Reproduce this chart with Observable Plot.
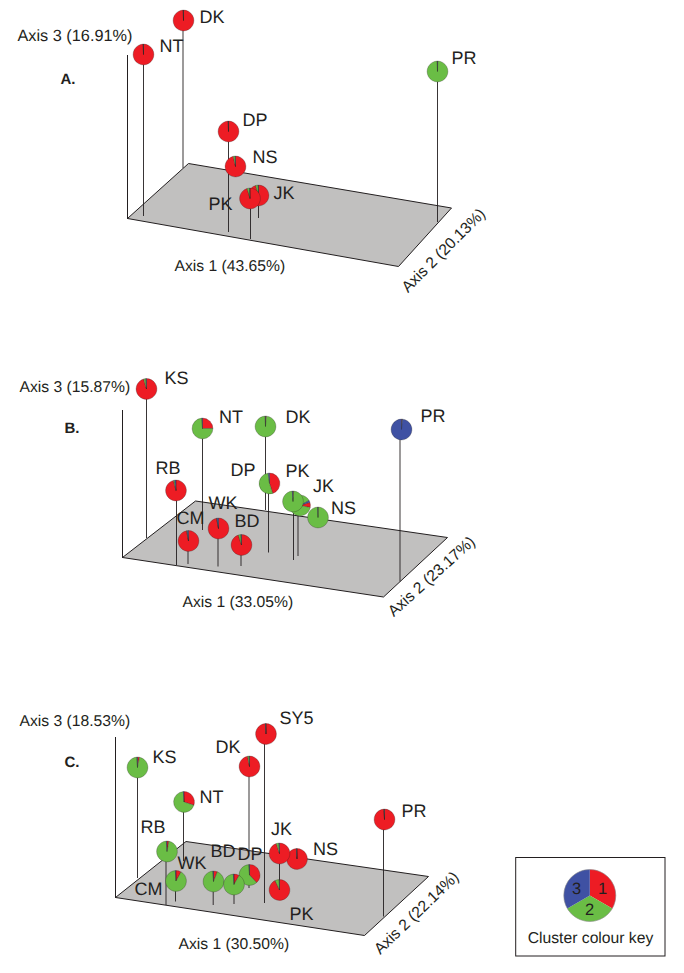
<!DOCTYPE html>
<html>
<head>
<meta charset="utf-8">
<script src="https://cdn.jsdelivr.net/npm/d3@7"></script>
<script src="https://cdn.jsdelivr.net/npm/@observablehq/plot@0.6"></script>
<style>html,body{margin:0;padding:0;background:#fff}svg{display:block;text-rendering:geometricPrecision}</style>
</head>
<body>
<div id="chart"></div>
<script>
// Picture coordinates. Draw order = order in the arrays.
const planeAx = [127,188,451,398], planeAy = [218,163,207.5,266];
const planeBx = [122,195,447,383], planeBy = [557,500.5,537,596.5];
const planeCx = [115,185.5,428,364], planeCy = [897,841,876,935];
const axisX = [127,122,115], axisTop = [55,410,737], axisBase = [218,557,897];

const sitesA = ["DK","NT","DP","NS","JK","PK","PR"];
const pieXA = [183,143,228,235,258,249.5,437];
const pieYA = [20,54,131,166,195,198,71];
const stemXA = [182.5,143,228,235,258,250,437];
const stemEndA = [168,216,232,166,218,239,222];
const redA = [.995,.995,.995,.965,.955,.955,.005];
const greenA = [.003,.003,.003,.03,.04,.04,.99];
const blueA = [.002,.002,.002,.005,.005,.005,.005];
const labelXA = [199,159,242,252,273,208,451];
const labelYA = [17,46,120,157,192.5,204,58];

const sitesB = ["KS","NT","RB","CM","WK","BD","DK","DP","JK","PK","NS","PR"];
const pieXB = [146,202,175.5,188,218,241,265,269,299.5,292.5,317.5,401];
const pieYB = [388.5,428,490,540.5,528,544.5,426,483,505,501,517,429];
const stemXB = [146,202,176,187.5,217.5,240.5,265,268,297.5,293,317.5,399.5];
const stemEndB = [538,530,565,564,566.5,566,510,552.5,556,560,517,581.5];
const redB = [.955,.25,.96,.97,.97,.95,.015,.45,.08,.01,.005,.01];
const greenB = [.035,.74,.02,.01,.005,.04,.98,.53,.89,.98,.99,.005];
const blueB = [.01,.01,.02,.02,.025,.01,.005,.02,.03,.01,.005,.985];
const turnB = [0,0,0,0,0,0,0,0,.2,0,0,0];
const labelXB = [164,218.5,155,176,208,234,285,230,312.5,285,330.5,420];
const labelYB = [378,416.5,468,517.5,503,520.5,416.5,470,486,471,508,416];

const sitesC = ["KS","NT","RB","CM","DP","WK","BD","NS","JK","PK","DK","SY5","PR"];
const pieXC = [137,183.5,166.5,175.5,249,213,233.5,296.5,279,279,249,265.5,384];
const pieYC = [767,801.5,851,880.5,874.5,881,884,858.5,853,889.5,766,733.5,819];
const stemXC = [137,183,165.5,175,248.5,212.7,233.5,296.5,279,279,248.5,264,383];
const stemEndC = [878,861,905,901.5,888,905,904,858.5,880,889.5,852,903,916.5];
const redC = [.03,.30,.03,.08,.38,.06,.08,.99,.95,.93,.97,.99,.99];
const greenC = [.96,.69,.96,.91,.61,.93,.91,.005,.04,.065,.025,.005,.005];
const blueC = [.01,.01,.01,.01,.01,.01,.01,.005,.01,.005,.005,.005,.005];
const labelXC = [152,199,140,134,237,177,210,312.5,270.5,289,215,279,401];
const labelYC = [757,797,827,889,854,863,851,848.5,829,914,746.5,718,810.5];

const axis3Text = ["Axis 3 (16.91%)","Axis 3 (15.87%)","Axis 3 (18.53%)"];
const axis3X = [17,19,19], axis3Y = [35,386.5,720];
const axis1Text = ["Axis 1 (43.65%)","Axis 1 (33.05%)","Axis 1 (30.50%)"];
const axis1X = [174,182,178], axis1Y = [265,601,943];
const axis2Text = ["Axis 2 (20.13%)","Axis 2 (23.17%)","Axis 2 (22.14%)"];
const axis2X = [443,431,416], axis2Y = [250,576,912.5], axis2Angle = [-45,-42,-44];
const panelText = ["A.","B.","C."];
const panelX = [60,64,64], panelY = [79,427.5,762];

const clusterNames = ["1","2","3"];
const clusterColors = ["#ed1c24","#6abd45","#3f51a3"];
const keyBoxX = [515.7,665], keyBoxY = [857.5,956];
const keyPieX = 589.3, keyPieY = 895;
const keyShare = [1/3,1/3,1/3];
const keyNumX = [602,589,576], keyNumY = [888.5,909,888.5];
const keyTitle = "Cluster colour key", keyTitleX = 590, keyTitleY = 937.5;

const ink = "#231f20";
const PIE_R = 10.4;

// Wedge as a d3-style symbol: fractions of a turn, clockwise from the top.
const wedge = (a0, a1) => ({
  draw(ctx, size) {
    const r = Math.sqrt(size / Math.PI);
    const t0 = a0 * 2 * Math.PI - Math.PI / 2, t1 = a1 * 2 * Math.PI - Math.PI / 2;
    ctx.moveTo(0, 0);
    ctx.lineTo(r * Math.cos(t0), r * Math.sin(t0));
    ctx.arc(0, 0, r, t0, t1);
    ctx.closePath();
  }
});

function slices(x, y, shares, turn) {
  let a = turn, rows = [];
  shares.forEach((s, k) => {
    rows.push({x, y, fill: clusterColors[k], symbol: wedge(a, a + s)});
    a += s;
  });
  return rows;
}
const pies = (X, Y, R, G, B, T) => X.flatMap((x, i) => slices(x, Y[i], [R[i], G[i], B[i]], T ? T[i] : 0));
const pieRows = [
  ...pies(pieXA, pieYA, redA, greenA, blueA),
  ...pies(pieXB, pieYB, redB, greenB, blueB, turnB),
  ...pies(pieXC, pieYC, redC, greenC, blueC)
];
const stems = (X, Y, End) => X.map((x, i) => ({x, y1: Y[i], y2: End[i]}));
const stemRows = [
  ...stems(stemXA, pieYA, stemEndA),
  ...stems(stemXB, pieYB, stemEndB),
  ...stems(stemXC, pieYC, stemEndC)
];
const plane = (X, Y, id) => [...X, X[0]].map((x, i) => ({x, y: [...Y, Y[0]][i], id}));
const planeRows = [...plane(planeAx, planeAy, "A"), ...plane(planeBx, planeBy, "B"), ...plane(planeCx, planeCy, "C")];
const labelRows = [
  ...sitesA.map((t, i) => ({t, x: labelXA[i], y: labelYA[i]})),
  ...sitesB.map((t, i) => ({t, x: labelXB[i], y: labelYB[i]})),
  ...sitesC.map((t, i) => ({t, x: labelXC[i], y: labelYC[i]}))
];
const keySlices = slices(keyPieX, keyPieY, keyShare, 0);

const plot = Plot.plot({
  width: 684, height: 973, margin: 0,
  style: {background: "#fff", fontFamily: "'Liberation Sans', Arial, sans-serif"},
  x: {domain: [0, 684], axis: null},
  y: {domain: [973, 0], axis: null},
  marks: [
    Plot.line(planeRows, {x: "x", y: "y", z: "id", fill: "#c1c0bf", stroke: ink, strokeWidth: 1, strokeLinejoin: "miter"}),
    Plot.ruleX(axisX, {x: d => d, y1: (d, i) => axisTop[i], y2: (d, i) => axisBase[i], stroke: ink, strokeWidth: 1}),
    Plot.ruleX(stemRows, {x: "x", y1: "y1", y2: "y2", stroke: ink, strokeWidth: 1, strokeOpacity: 0.9}),
    Plot.dot(pieRows, {x: "x", y: "y", r: PIE_R, symbol: "symbol", fill: "fill", stroke: ink, strokeWidth: 0.4, strokeOpacity: 0.7}),
    Plot.text(labelRows, {x: "x", y: "y", text: "t", textAnchor: "start", fontSize: 18, fill: ink}),
    ...axis3Text.map((t, i) => Plot.text([t], {x: [axis3X[i]], y: [axis3Y[i]], text: d => d, textAnchor: "start", fontSize: i === 0 ? 16.3 : 15.7, fill: ink})),
    Plot.text(axis1Text, {x: axis1X, y: axis1Y, text: d => d, textAnchor: "start", fontSize: 15.7, fill: ink}),
    ...axis2Text.map((t, i) => Plot.text([t], {x: [axis2X[i]], y: [axis2Y[i]], text: d => d, rotate: axis2Angle[i], fontSize: 15.7, fill: ink})),
    Plot.text(panelText, {x: panelX, y: panelY, text: d => d, textAnchor: "start", fontSize: 15, fontWeight: "bold", fill: ink}),
    Plot.rect([0], {x1: keyBoxX[0], x2: keyBoxX[1], y1: keyBoxY[0], y2: keyBoxY[1], fill: "#fff", stroke: ink, strokeWidth: 1}),
    Plot.dot(keySlices, {x: "x", y: "y", r: 26, symbol: "symbol", fill: "fill"}),
    Plot.dot([0], {x: keyPieX, y: keyPieY, r: 26, fill: "none", stroke: "#8a8a8a", strokeWidth: 0.6}),
    Plot.text(clusterNames, {x: keyNumX, y: keyNumY, text: d => d, fontSize: 16.5, fill: ink}),
    Plot.text([keyTitle], {x: keyTitleX, y: keyTitleY, text: d => d, fontSize: 15.7, fill: ink})
  ]
});
document.getElementById("chart").appendChild(plot);
</script>
</body>
</html>
